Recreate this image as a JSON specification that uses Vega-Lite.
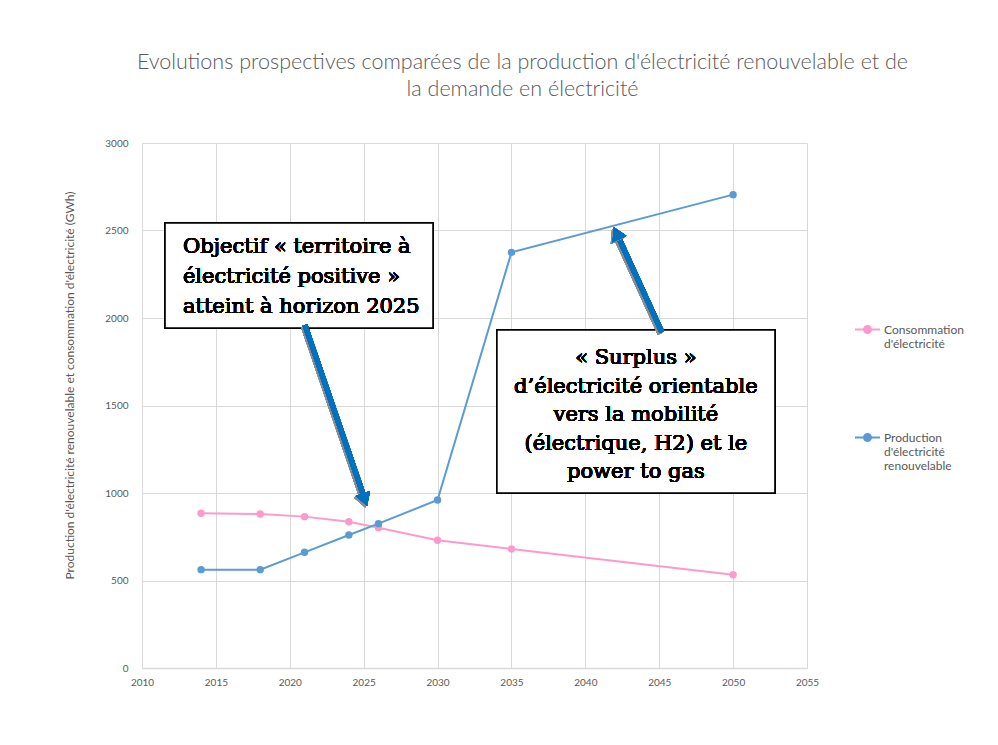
{
  "$schema": "https://vega.github.io/schema/vega-lite/v6.json",
  "autosize": "none",
  "width": 665,
  "height": 525,
  "padding": {"left": 142, "top": 143, "right": 191, "bottom": 77},
  "background": "white",
  "title": {
    "text": ["Evolutions prospectives comparées de la production d'électricité renouvelable et de", "la demande en électricité"],
    "font": "Lato",
    "fontSize": 21.5,
    "fontWeight": 300,
    "color": "#595959",
    "lineHeight": 27,
    "anchor": "middle",
    "dx": 48,
    "offset": 38
  },
  "config": {
    "view": {"stroke": null},
    "axis": {
      "labelFont": "Lato",
      "labelColor": "#595959",
      "labelFontSize": 10,
      "gridColor": "#d9d9d9",
      "gridWidth": 1,
      "ticks": false,
      "domainColor": "#d9d9d9",
      "titleFont": "Lato",
      "labelOverlap": false,
      "labelFlush": false
    }
  },
  "data": {
    "values": [
      {"year": 2014, "serie": "Consommation d'électricité", "value": 884},
      {"year": 2018, "serie": "Consommation d'électricité", "value": 880},
      {"year": 2021, "serie": "Consommation d'électricité", "value": 865},
      {"year": 2024, "serie": "Consommation d'électricité", "value": 836},
      {"year": 2026, "serie": "Consommation d'électricité", "value": 802},
      {"year": 2030, "serie": "Consommation d'électricité", "value": 730},
      {"year": 2035, "serie": "Consommation d'électricité", "value": 680},
      {"year": 2050, "serie": "Consommation d'électricité", "value": 533},
      {"year": 2014, "serie": "Production d'électricité renouvelable", "value": 562},
      {"year": 2018, "serie": "Production d'électricité renouvelable", "value": 562},
      {"year": 2021, "serie": "Production d'électricité renouvelable", "value": 661},
      {"year": 2024, "serie": "Production d'électricité renouvelable", "value": 760},
      {"year": 2026, "serie": "Production d'électricité renouvelable", "value": 825},
      {"year": 2030, "serie": "Production d'électricité renouvelable", "value": 960},
      {"year": 2035, "serie": "Production d'électricité renouvelable", "value": 2375},
      {"year": 2050, "serie": "Production d'électricité renouvelable", "value": 2705}
    ]
  },
  "layer": [
    {
      "mark": {"type": "line", "strokeWidth": 2, "point": {"filled": true, "size": 55}},
      "encoding": {
        "x": {
          "field": "year", "type": "quantitative",
          "scale": {"domain": [2010, 2055], "nice": false, "zero": false},
          "axis": {"title": null, "values": [2010, 2015, 2020, 2025, 2030, 2035, 2040, 2045, 2050, 2055], "format": "d", "labelPadding": 9, "domainColor": "#d9d9d9", "domainWidth": 1.5}
        },
        "y": {
          "field": "value", "type": "quantitative",
          "scale": {"domain": [0, 3000], "nice": false},
          "axis": {
            "title": "Production d'électricité renouvelable et consommation d'électricité (GWh)",
            "titleFontSize": 12, "titleFontWeight": "normal", "titleColor": "#595959",
            "values": [0, 500, 1000, 1500, 2000, 2500, 3000], "format": "d",
            "labelPadding": 14, "domain": false, "titlePadding": 28, "titleY": 242
          }
        },
        "color": {
          "field": "serie", "type": "nominal",
          "scale": {"domain": ["Consommation d'électricité", "Production d'électricité renouvelable"], "range": ["#FF99CC", "#5B9BD5"]},
          "legend": {
            "title": null,
            "orient": "none",
            "legendX": 712,
            "legendY": 173,
            "direction": "vertical",
            "labelFont": "Lato",
            "labelFontSize": 12,
            "labelColor": "#595959",
            "labelBaseline": "middle",
            "labelOffset": 3,
            "labelExpr": "datum.label == \"Consommation d'électricité\" ? ['Consommation', \"d'électricité\"] : ['Production', \"d'électricité\", 'renouvelable']",
            "rowPadding": 74,
            "symbolType": "M-1,0L1,0M0.28,0A0.28,0.28 0 1,1 -0.28,0A0.28,0.28 0 1,1 0.28,0Z",
            "symbolSize": 625,
            "symbolStrokeWidth": 2,
            "symbolOffset": 0,
            "encode": {"symbols": {"update": {"fill": {"scale": "color", "field": "value"}}}}
          }
        }
      }
    },
    {
      "mark": {"type": "rect", "fill": "white", "stroke": "black", "strokeWidth": 1.5},
      "encoding": {
        "x": {"datum": 2011.56},
        "x2": {"datum": 2029.69},
        "y": {"datum": 2543},
        "y2": {"datum": 1943}
      }
    },
    {
      "mark": {"type": "rect", "fill": "white", "stroke": "black", "strokeWidth": 1.5},
      "encoding": {
        "x": {"datum": 2034.02},
        "x2": {"datum": 2052.83},
        "y": {"datum": 1931},
        "y2": {"datum": 1000}
      }
    },
    {
      "mark": {"type": "text", "font": "DejaVu Serif", "fontSize": 21, "fontWeight": "normal", "align": "left", "baseline": "middle", "lineHeight": 30, "fill": "black", "stroke": "transparent", "strokeWidth": 0,
        "text": ["Objectif « territoire à", "électricité positive »", "atteint à horizon 2025"]},
      "encoding": {"x": {"datum": 2012.77}, "y": {"datum": 2406}}
    },
    {
      "mark": {"type": "text", "font": "DejaVu Serif", "fontSize": 21, "fontWeight": "normal", "align": "center", "baseline": "middle", "lineHeight": 28.5, "fill": "black", "stroke": "transparent", "strokeWidth": 0,
        "text": ["« Surplus »", "d’électricité orientable", "vers la mobilité", "(électrique, H2) et le", "power to gas"]},
      "encoding": {"x": {"datum": 2043.42}, "y": {"datum": 1771}}
    },
    {
      "mark": {"type": "rule", "strokeWidth": 5, "color": "#8c8c8c"},
      "encoding": {"x": {"datum": 2020.93}, "y": {"datum": 1950}, "x2": {"datum": 2024.97}, "y2": {"datum": 953}}
    },
    {
      "mark": {"type": "rule", "strokeWidth": 5, "color": "#0070C0"},
      "encoding": {"x": {"datum": 2021.03}, "y": {"datum": 1960}, "x2": {"datum": 2025.09}, "y2": {"datum": 962}}
    },
    {
      "mark": {"type": "point", "shape": "triangle-up", "filled": true, "size": 230, "angle": 161, "color": "#8c8c8c", "opacity": 1},
      "encoding": {"x": {"datum": 2024.97}, "y": {"datum": 953}}
    },
    {
      "mark": {"type": "point", "shape": "triangle-up", "filled": true, "size": 230, "angle": 161, "color": "#0070C0", "opacity": 1},
      "encoding": {"x": {"datum": 2025.09}, "y": {"datum": 962}}
    },
    {
      "mark": {"type": "rule", "strokeWidth": 5, "color": "#8c8c8c"},
      "encoding": {"x": {"datum": 2045.06}, "y": {"datum": 1910}, "x2": {"datum": 2042.0}, "y2": {"datum": 2475}}
    },
    {
      "mark": {"type": "rule", "strokeWidth": 5, "color": "#0070C0"},
      "encoding": {"x": {"datum": 2045.18}, "y": {"datum": 1920}, "x2": {"datum": 2042.12}, "y2": {"datum": 2485}}
    },
    {
      "mark": {"type": "point", "shape": "triangle-up", "filled": true, "size": 230, "angle": 335, "color": "#8c8c8c", "opacity": 1},
      "encoding": {"x": {"datum": 2042.0}, "y": {"datum": 2475}}
    },
    {
      "mark": {"type": "point", "shape": "triangle-up", "filled": true, "size": 230, "angle": 335, "color": "#0070C0", "opacity": 1},
      "encoding": {"x": {"datum": 2042.12}, "y": {"datum": 2485}}
    }
  ]
}
